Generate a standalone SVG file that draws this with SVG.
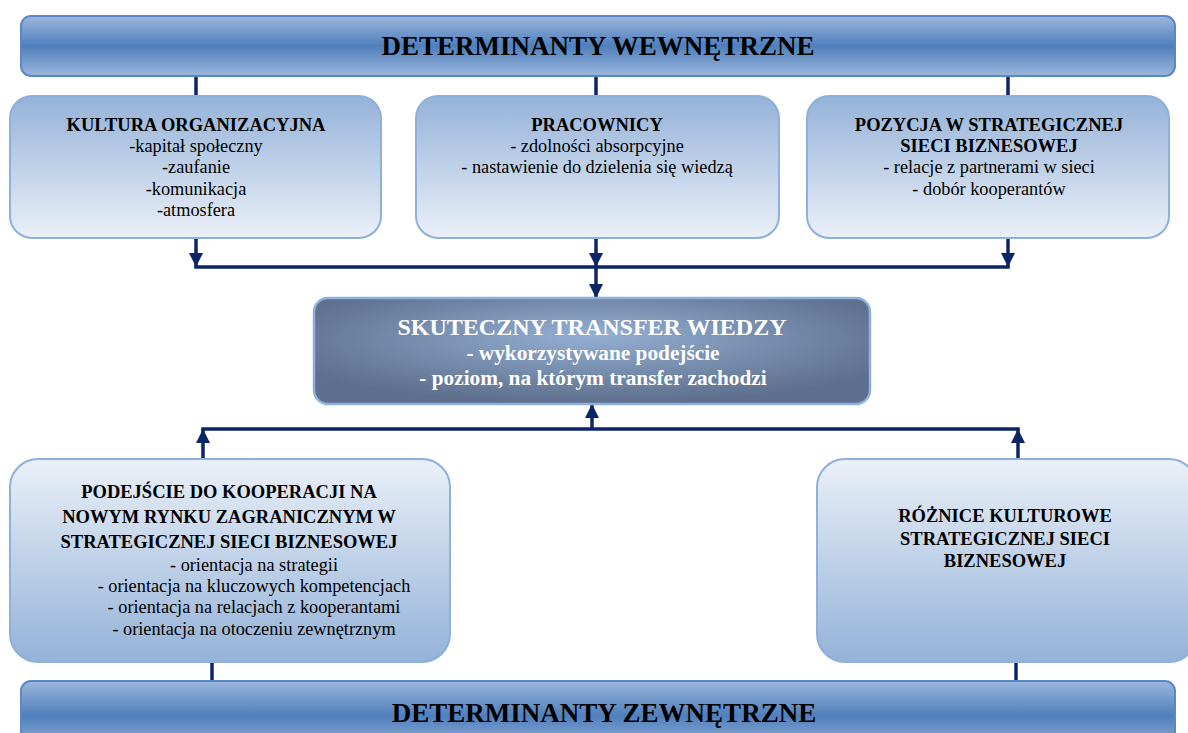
<svg xmlns="http://www.w3.org/2000/svg" width="1188" height="733" viewBox="0 0 1188 733">
  <defs>
    <linearGradient id="banner" x1="0" y1="0" x2="0" y2="1">
      <stop offset="0" stop-color="#9cb7dc"/>
      <stop offset="0.5" stop-color="#4f7fbc"/>
      <stop offset="1" stop-color="#9cb7dc"/>
    </linearGradient>
    <linearGradient id="boxDown" x1="0" y1="0" x2="0" y2="1">
      <stop offset="0" stop-color="#94b2d8"/>
      <stop offset="1" stop-color="#eaf0f8"/>
    </linearGradient>
    <linearGradient id="boxUp" x1="0" y1="0" x2="0" y2="1">
      <stop offset="0" stop-color="#eaf0f8"/>
      <stop offset="1" stop-color="#94b2d8"/>
    </linearGradient>
    <radialGradient id="core" cx="0.5" cy="0.4" r="0.6" fx="0.5" fy="0.35">
      <stop offset="0" stop-color="#94afd3"/>
      <stop offset="1" stop-color="#5d6f8c"/>
    </radialGradient>
    <marker id="ah" viewBox="0 0 10 10" refX="10" refY="5" markerWidth="4" markerHeight="4" orient="auto" markerUnits="strokeWidth">
      <path d="M0,0 L10,5 L0,10 z" fill="#0b2566"/>
    </marker>
    <style>
      .banner { fill: url(#banner); stroke: #5a88c4; stroke-width: 2; }
      .top { fill: url(#boxDown); stroke: #8db0dc; stroke-width: 2; }
      .bot { fill: url(#boxUp); stroke: #8db0dc; stroke-width: 2; }
      .core { fill: url(#core); stroke: #8db0dc; stroke-width: 2.5; }
      .ln { fill: none; stroke: #0b2566; stroke-width: 3.5; }
      .arr { fill: none; stroke: #0b2566; stroke-width: 3.5; marker-end: url(#ah); }
      text { font-family: "Liberation Serif", "Times New Roman", serif; text-anchor: middle; fill: #000; }
      .h1 { font-size: 27px; font-weight: bold; }
      .h2 { font-size: 18.5px; font-weight: bold; }
      .t { font-size: 18.3px; }
      .w1 { font-size: 24px; font-weight: bold; fill: #fff; }
      .w2 { font-size: 21.3px; font-weight: bold; fill: #fff; }
    </style>
  </defs>

  <!-- connectors -->
  <g id="connectors">
    <line class="ln" x1="196" y1="76" x2="196" y2="97"/>
    <line class="ln" x1="596" y1="76" x2="596" y2="97"/>
    <line class="ln" x1="1008" y1="76" x2="1008" y2="97"/>
    <line class="arr" x1="196" y1="238" x2="196" y2="267"/>
    <line class="arr" x1="596" y1="238" x2="596" y2="267"/>
    <line class="arr" x1="1008" y1="238" x2="1008" y2="267"/>
    <line class="ln" x1="194.25" y1="267" x2="1009.75" y2="267"/>
    <line class="arr" x1="596" y1="267" x2="596" y2="298"/>
    <line class="arr" x1="592" y1="429" x2="592" y2="404"/>
    <line class="ln" x1="201.25" y1="429" x2="1019.75" y2="429"/>
    <line class="arr" x1="203" y1="459" x2="203" y2="429"/>
    <line class="arr" x1="1018" y1="459" x2="1018" y2="429"/>
    <line class="ln" x1="212" y1="662" x2="212" y2="682"/>
    <line class="ln" x1="1016" y1="662" x2="1016" y2="682"/>
  </g>

  <g id="determinanty-wewnetrzne">
    <rect class="banner" x="21" y="16" width="1154" height="60" rx="10"/>
    <text class="h1" x="598" y="55">DETERMINANTY WEWNĘTRZNE</text>
  </g>

  <g id="kultura-organizacyjna">
    <rect class="top" x="10" y="96" width="371" height="142" rx="22"/>
    <text class="h2" x="196" y="131">KULTURA ORGANIZACYJNA</text>
    <text class="t" x="196" y="152">-kapitał społeczny</text>
    <text class="t" x="196" y="173">-zaufanie</text>
    <text class="t" x="196" y="195">-komunikacja</text>
    <text class="t" x="196" y="216">-atmosfera</text>
  </g>

  <g id="pracownicy">
    <rect class="top" x="416" y="96" width="363" height="142" rx="22"/>
    <text class="h2" x="597" y="131">PRACOWNICY</text>
    <text class="t" x="597" y="152">- zdolności absorpcyjne</text>
    <text class="t" x="597" y="173">- nastawienie do dzielenia się wiedzą</text>
  </g>

  <g id="pozycja-w-sieci">
    <rect class="top" x="807" y="96" width="362" height="142" rx="22"/>
    <text class="h2" x="989" y="131">POZYCJA W STRATEGICZNEJ</text>
    <text class="h2" x="989" y="152">SIECI BIZNESOWEJ</text>
    <text class="t" x="989" y="173">- relacje z partnerami w sieci</text>
    <text class="t" x="989" y="195">- dobór kooperantów</text>
  </g>

  <g id="skuteczny-transfer-wiedzy">
    <rect class="core" x="314" y="298" width="556" height="106" rx="14"/>
    <text class="w1" x="592" y="335">SKUTECZNY TRANSFER WIEDZY</text>
    <text class="w2" x="593" y="360">- wykorzystywane podejście</text>
    <text class="w2" x="593" y="385">- poziom, na którym transfer zachodzi</text>
  </g>

  <g id="podejscie-do-kooperacji">
    <rect class="bot" x="10" y="459" width="440" height="203" rx="28"/>
    <text class="h2" x="229" y="498">PODEJŚCIE DO KOOPERACJI NA</text>
    <text class="h2" x="229" y="523">NOWYM RYNKU ZAGRANICZNYM W</text>
    <text class="h2" x="229" y="548">STRATEGICZNEJ SIECI BIZNESOWEJ</text>
    <text class="t" x="254" y="571">- orientacja na strategii</text>
    <text class="t" x="254" y="592">- orientacja na kluczowych kompetencjach</text>
    <text class="t" x="254" y="613">- orientacja na relacjach z kooperantami</text>
    <text class="t" x="254" y="635">- orientacja na otoczeniu zewnętrznym</text>
  </g>

  <g id="roznice-kulturowe">
    <rect class="bot" x="817" y="459" width="380" height="203" rx="28"/>
    <text class="h2" x="1005" y="522">RÓŻNICE KULTUROWE</text>
    <text class="h2" x="1005" y="545">STRATEGICZNEJ SIECI</text>
    <text class="h2" x="1005" y="567">BIZNESOWEJ</text>
  </g>

  <g id="determinanty-zewnetrzne">
    <rect class="banner" x="21" y="681" width="1154" height="70" rx="10"/>
    <text class="h1" x="604" y="722">DETERMINANTY ZEWNĘTRZNE</text>
  </g>
</svg>
